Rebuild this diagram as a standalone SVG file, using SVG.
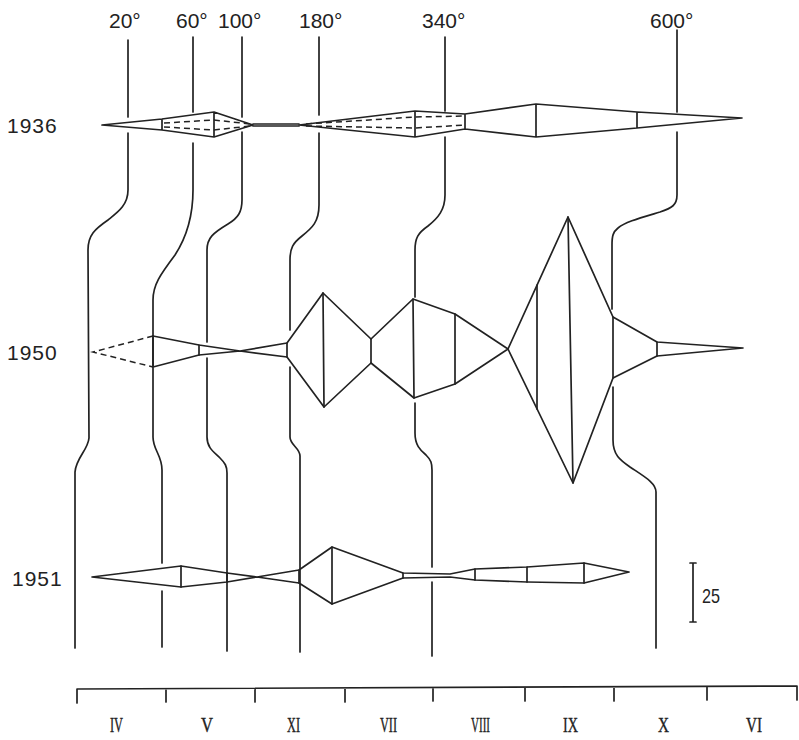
<svg xmlns="http://www.w3.org/2000/svg" width="799" height="740" viewBox="0 0 799 740">
<style>
.ln{fill:none;stroke:#222;stroke-width:1.7;stroke-linejoin:round;stroke-linecap:round}
.ds{fill:none;stroke:#222;stroke-width:1.5;stroke-dasharray:6 4}
.lab{font-family:"Liberation Sans",Arial,sans-serif;font-size:21px;fill:#222}
.rom{font-family:"Liberation Serif","Times New Roman",serif;font-size:22px;fill:#222;stroke:#222;stroke-width:0.4}
</style>
<rect width="799" height="740" fill="#fff"/>
<g id="temperature-labels" class="lab">
<text x="109" y="28">20°</text>
<text x="176" y="28">60°</text>
<text x="218" y="28">100°</text>
<text x="299" y="28">180°</text>
<text x="422" y="28">340°</text>
<text x="650" y="28">600°</text>
</g>
<g id="year-labels" class="lab">
<text x="7" y="133" letter-spacing="1">1936</text>
<text x="7" y="360" letter-spacing="1">1950</text>
<text x="12" y="586" letter-spacing="1">1951</text>
</g>
<g id="connectors">
<path class="ln" d="M128,40 V117 M128,133 V190 C128,205 118,212 108,220 C95,229 88,235 88,250 L89,438 C88,450 76,458 75,472 V648"/>
<path class="ln" d="M193,37 V112 M193,143 V190 C193,215 188,235 175,255 C160,275 153,285 153,300 V336 M153,368 V437 C153,450 162,455 162,470 V563 M162,591 V647"/>
<path class="ln" d="M242,37 V117 M242,132 V200 C242,212 238,218 228,224 C213,233 207,238 207,250 V342 M207,358 V437 C207,448 214,452 220,458 C225,463 227,466 227,473 V651"/>
<path class="ln" d="M319,37 V115 M319,133 V205 C319,222 312,228 302,236 C293,243 290,248 290,260 V330 M290,367 V437 C290,445 300,448 300,456 V652"/>
<path class="ln" d="M445,37 V111 M445,137 V195 C445,210 438,218 428,226 C418,233 415,238 415,250 V297 M415,403 V433 C415,445 420,450 426,455 C431,460 432,463 432,470 V567 M432,582 V656"/>
<path class="ln" d="M677,30 V112 M677,132 V195 C677,205 672,208 660,212 C640,218 625,222 618,228 C613,232 612,236 612,245 V309 M613,387 V440 C613,455 620,460 630,467 C645,477 656,483 656,492 V648"/>
</g>
<g id="row-1936">
<path class="ln" d="M102,125 L162,119 L214,112 L253,125 L214,137 L162,130 Z M162,119 V130 M214,112 V137"/>
<path class="ds" d="M164,123 L214,120 L250,124 M164,127 L214,130 L250,126"/>
<path class="ln" d="M253,124 H299 M253,126 H299"/>
<path class="ln" d="M299,125 L415,111 L465,114 L536,104 L637,112 L742,118 L637,128 L536,137 L465,129 L415,137 Z M415,111 V137 M465,114 V129 M536,104 V137 M637,112 V128"/>
<path class="ds" d="M306,124 L415,117 L465,116 M306,126 L415,128 L465,125"/>
</g>
<g id="row-1950">
<path class="ds" d="M153,336 L93,352 L153,367"/>
<path class="ln" d="M153,336 L199,345 L240,351 L287,343 L323,293 L371,339 L413,299 L455,314 L508,349 L568,217 L613,317 L657,342 L743,348 L657,356 L613,378 L573,483 L508,349 L455,384 L414,398 L371,363 L324,407 L287,357 L240,351 L199,355 L153,367 Z"/>
<path class="ln" d="M153,336 V367 M199,345 V355 M287,343 V357 M323,293 L324,407 M371,339 V363 M413,299 L414,398 M455,314 V384 M537,285 V409 M568,217 L573,483 M613,317 V378 M657,342 V356"/>
</g>
<g id="row-1951">
<path class="ln" d="M92,577 L181,566 L227,573 L257,577 L299,570 L332,547 L403,573 L450,574 L475,569 L527,567 L584,563 L629,572 L584,583 L527,582 L475,580 L450,577 L403,578 L332,604 L299,583 L257,577 L227,582 L181,587 Z"/>
<path class="ln" d="M181,566 V587 M227,573 V582 M299,570 V583 M332,547 V604 M403,573 V578 M475,569 V580 M527,567 V582 M584,563 V583"/>
</g>
<g id="scale-bar">
<path class="ln" d="M693,563 V622 M690,563 H696 M690,622 H696"/>
<text class="lab" x="702" y="603" textLength="18" lengthAdjust="spacingAndGlyphs">25</text>
</g>
<g id="axis">
<path class="ln" d="M77,703 V689 L797,686 V700 M166,689 V702 M255,688.5 V702 M345,688 V702 M433,688 V701 M525,687.5 V701 M614,687 V701 M707,686.5 V700"/>
</g>
<g id="axis-labels" class="rom">
<text x="110" y="732" textLength="13" lengthAdjust="spacingAndGlyphs">IV</text>
<text x="201" y="732" textLength="12" lengthAdjust="spacingAndGlyphs">V</text>
<text x="287" y="732" textLength="13" lengthAdjust="spacingAndGlyphs">XI</text>
<text x="380" y="732" textLength="17" lengthAdjust="spacingAndGlyphs">VII</text>
<text x="471" y="732" textLength="19" lengthAdjust="spacingAndGlyphs">VIII</text>
<text x="563" y="732" textLength="15" lengthAdjust="spacingAndGlyphs">IX</text>
<text x="658" y="732" textLength="11" lengthAdjust="spacingAndGlyphs">X</text>
<text x="746" y="732" textLength="16" lengthAdjust="spacingAndGlyphs">VI</text>
</g>
</svg>
